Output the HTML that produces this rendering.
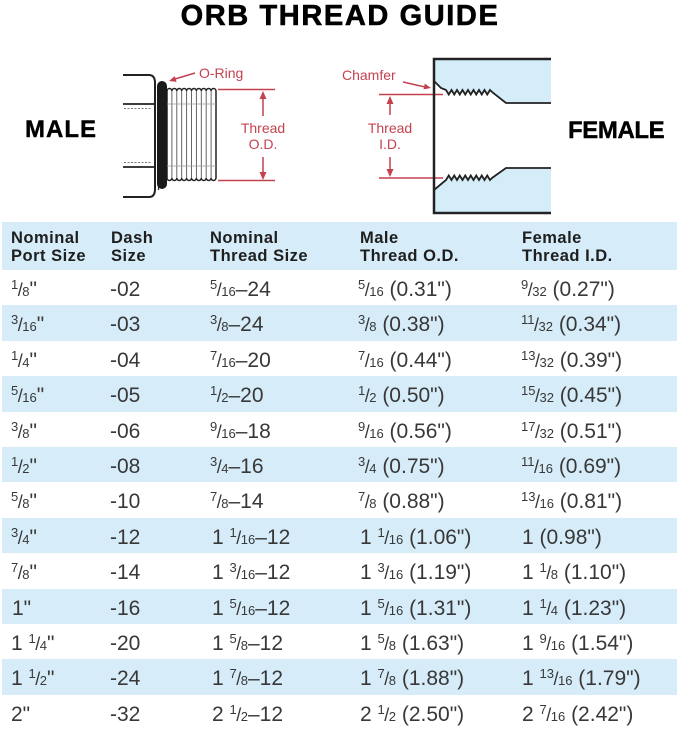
<!DOCTYPE html>
<html><head><meta charset="utf-8">
<style>
html,body{margin:0;padding:0;background:#fff;}
#p{position:relative;width:679px;height:729px;overflow:hidden;background:#fff;font-family:"Liberation Sans",sans-serif;}
svg{position:absolute;left:0;top:0;}
.band{position:absolute;left:2px;width:675px;background:#d6ecf8;}
.r{position:absolute;left:0;width:679px;height:35.4px;}
.c{position:absolute;top:2px;line-height:35.4px;font-size:21px;color:#383838;white-space:nowrap;}
.h{position:absolute;font-size:16.5px;font-weight:bold;color:#1e1e1e;line-height:17.5px;letter-spacing:0.5px;white-space:nowrap;}
.n{font-size:13px;position:relative;top:-7px;}
.s{font-size:18px;margin:0 -0.5px;}
.d{font-size:13px;}
.g{margin-left:3px;}
</style></head><body><div id="p">
<svg width="679" height="222" viewBox="0 0 679 222">
<text x="340" y="25" text-anchor="middle" font-family="Liberation Sans, sans-serif" font-weight="bold" font-size="29" letter-spacing="1.6" fill="#000" stroke="#000" stroke-width="0.6">ORB THREAD GUIDE</text>
<text x="25" y="137" font-family="Liberation Sans, sans-serif" font-weight="bold" font-size="24" letter-spacing="1" fill="#000" stroke="#000" stroke-width="0.4">MALE</text>
<text x="568" y="138" font-family="Liberation Sans, sans-serif" font-weight="bold" font-size="24" letter-spacing="-0.4" fill="#000" stroke="#000" stroke-width="0.4">FEMALE</text>
<!-- male -->
<path d="M123,75 H149 Q155,75 155,83 V189 Q155,197 149,197 H123" fill="none" stroke="#222" stroke-width="2"/>
<path d="M123,104 H155 M123,167 H155" stroke="#222" stroke-width="1.8"/>
<path d="M124,108.5 H152 M124,162.5 H152" stroke="#777" stroke-width="1" stroke-dasharray="2,1.5"/>
<path d="M158.5,85 V190" stroke="#333" stroke-width="1.2"/>
<path d="M167,91 a2.45,2.45 0 0 1 4.9,0 a2.45,2.45 0 0 1 4.9,0 a2.45,2.45 0 0 1 4.9,0 a2.45,2.45 0 0 1 4.9,0 a2.45,2.45 0 0 1 4.9,0 a2.45,2.45 0 0 1 4.9,0 a2.45,2.45 0 0 1 4.9,0 a2.45,2.45 0 0 1 4.9,0 a2.45,2.45 0 0 1 4.9,0 a2.45,2.45 0 0 1 4.9,0 V178 a2.45,2.45 0 0 1 -4.9,0 a2.45,2.45 0 0 1 -4.9,0 a2.45,2.45 0 0 1 -4.9,0 a2.45,2.45 0 0 1 -4.9,0 a2.45,2.45 0 0 1 -4.9,0 a2.45,2.45 0 0 1 -4.9,0 a2.45,2.45 0 0 1 -4.9,0 a2.45,2.45 0 0 1 -4.9,0 a2.45,2.45 0 0 1 -4.9,0 a2.45,2.45 0 0 1 -4.9,0 Z" fill="#fff" stroke="#222" stroke-width="1.5"/>
<path d="M171.9,91 V178 M176.8,91 V178 M181.7,91 V178 M186.6,91 V178 M191.5,91 V178 M196.4,91 V178 M201.3,91 V178 M206.2,91 V178 M211.1,91 V178" stroke="#555" stroke-width="0.9"/>
<path d="M167,104 H216 M167,166 H216" stroke="#999" stroke-width="0.8"/>
<rect x="157" y="81" width="10" height="108" rx="5" fill="#1a1a1a"/>
<g stroke="#c4424f" stroke-width="1.5" fill="none">
<path d="M218,89.5 H275 M218,180.5 H275 M263,97 V116 M263,157 V174 M195,73 L175,79"/>
<path d="M379,94.5 H443 M379,178 H443 M390,102 V115 M390,157 V171 M403,82 L425,87"/>
</g>
<g fill="#c4424f">
<polygon points="263,91 259.5,99 266.5,99"/>
<polygon points="263,180 259.5,172 266.5,172"/>
<polygon points="169,81 176.6,81.9 174.8,76.1"/>
<polygon points="390,96 386.5,104 393.5,104"/>
<polygon points="390,177 386.5,169 393.5,169"/>
<polygon points="431,88 423.5,89.4 424.8,83.6"/>
</g>
<g font-family="Liberation Sans, sans-serif" font-size="14" fill="#c4424f">
<text x="199" y="78">O-Ring</text>
<text x="263" y="133" text-anchor="middle">Thread</text>
<text x="263" y="149" text-anchor="middle">O.D.</text>
<text x="342" y="80">Chamfer</text>
<text x="390" y="133" text-anchor="middle">Thread</text>
<text x="390" y="149" text-anchor="middle">I.D.</text>
</g>
<!-- female -->
<path d="M434,59 H551 V103 H506 L492,92 L490,90 L487.25,94.5 L484.5,90 L481.75,94.5 L479,90 L476.25,94.5 L473.5,90 L470.75,94.5 L468,90 L465.25,94.5 L462.5,90 L459.75,94.5 L457,90 L454.25,94.5 L451.5,90 L448.75,94.5 L446,90 L441,88 L434,81 Z" fill="#d4edf8"/>
<path d="M434,190 L446,180 L448.75,175.5 L451.5,180 L454.25,175.5 L457,180 L459.75,175.5 L462.5,180 L465.25,175.5 L468,180 L470.75,175.5 L473.5,180 L476.25,175.5 L479,180 L481.75,175.5 L484.5,180 L487.25,175.5 L490,180 L492,178 L506,168 H551 V213 H434 Z" fill="#d4edf8"/>
<path d="M434,81 L441,88 L446,90 L448.75,94.5 L451.5,90 L454.25,94.5 L457,90 L459.75,94.5 L462.5,90 L465.25,94.5 L468,90 L470.75,94.5 L473.5,90 L476.25,94.5 L479,90 L481.75,94.5 L484.5,90 L487.25,94.5 L490,90 L492,92 L506,103 H551" fill="none" stroke="#222" stroke-width="1.8"/>
<path d="M434,190 L446,180 L448.75,175.5 L451.5,180 L454.25,175.5 L457,180 L459.75,175.5 L462.5,180 L465.25,175.5 L468,180 L470.75,175.5 L473.5,180 L476.25,175.5 L479,180 L481.75,175.5 L484.5,180 L487.25,175.5 L490,180 L492,178 L506,168 H551" fill="none" stroke="#222" stroke-width="1.8"/>
<path d="M551,59 H434 V213 H551" fill="none" stroke="#222" stroke-width="2.5"/>
</svg>

<div class="band" style="top:222px;height:48px;"></div>
<div class="h" style="left:11px;top:230px;">Nominal<br>Port Size</div>
<div class="h" style="left:111px;top:230px;">Dash<br>Size</div>
<div class="h" style="left:210px;top:230px;">Nominal<br>Thread Size</div>
<div class="h" style="left:360px;top:230px;">Male<br>Thread O.D.</div>
<div class="h" style="left:522px;top:230px;">Female<br>Thread I.D.</div>

<div class="r" style="top:270px;">
<span class="c" style="left:11px"><span class="n">1</span><span class="s">/</span><span class="d">8</span>"</span>
<span class="c" style="left:110px">-02</span>
<span class="c" style="left:210px"><span class="n">5</span><span class="s">/</span><span class="d">16</span>–24</span>
<span class="c" style="left:358px"><span class="n">5</span><span class="s">/</span><span class="d">16</span> (0.31")</span>
<span class="c" style="left:521px"><span class="n">9</span><span class="s">/</span><span class="d">32</span> (0.27")</span>
</div>
<div class="r" style="top:305.4px;background:#d6ecf8;left:2px;width:675px;">
<span class="c" style="left:9px"><span class="n">3</span><span class="s">/</span><span class="d">16</span>"</span>
<span class="c" style="left:108px">-03</span>
<span class="c" style="left:208px"><span class="n">3</span><span class="s">/</span><span class="d">8</span>–24</span>
<span class="c" style="left:356px"><span class="n">3</span><span class="s">/</span><span class="d">8</span> (0.38")</span>
<span class="c" style="left:519px"><span class="n">11</span><span class="s">/</span><span class="d">32</span> (0.34")</span>
</div>
<div class="r" style="top:340.8px;">
<span class="c" style="left:11px"><span class="n">1</span><span class="s">/</span><span class="d">4</span>"</span>
<span class="c" style="left:110px">-04</span>
<span class="c" style="left:210px"><span class="n">7</span><span class="s">/</span><span class="d">16</span>–20</span>
<span class="c" style="left:358px"><span class="n">7</span><span class="s">/</span><span class="d">16</span> (0.44")</span>
<span class="c" style="left:521px"><span class="n">13</span><span class="s">/</span><span class="d">32</span> (0.39")</span>
</div>
<div class="r" style="top:376.2px;background:#d6ecf8;left:2px;width:675px;">
<span class="c" style="left:9px"><span class="n">5</span><span class="s">/</span><span class="d">16</span>"</span>
<span class="c" style="left:108px">-05</span>
<span class="c" style="left:208px"><span class="n">1</span><span class="s">/</span><span class="d">2</span>–20</span>
<span class="c" style="left:356px"><span class="n">1</span><span class="s">/</span><span class="d">2</span> (0.50")</span>
<span class="c" style="left:519px"><span class="n">15</span><span class="s">/</span><span class="d">32</span> (0.45")</span>
</div>
<div class="r" style="top:411.6px;">
<span class="c" style="left:11px"><span class="n">3</span><span class="s">/</span><span class="d">8</span>"</span>
<span class="c" style="left:110px">-06</span>
<span class="c" style="left:210px"><span class="n">9</span><span class="s">/</span><span class="d">16</span>–18</span>
<span class="c" style="left:358px"><span class="n">9</span><span class="s">/</span><span class="d">16</span> (0.56")</span>
<span class="c" style="left:521px"><span class="n">17</span><span class="s">/</span><span class="d">32</span> (0.51")</span>
</div>
<div class="r" style="top:447px;background:#d6ecf8;left:2px;width:675px;">
<span class="c" style="left:9px"><span class="n">1</span><span class="s">/</span><span class="d">2</span>"</span>
<span class="c" style="left:108px">-08</span>
<span class="c" style="left:208px"><span class="n">3</span><span class="s">/</span><span class="d">4</span>–16</span>
<span class="c" style="left:356px"><span class="n">3</span><span class="s">/</span><span class="d">4</span> (0.75")</span>
<span class="c" style="left:519px"><span class="n">11</span><span class="s">/</span><span class="d">16</span> (0.69")</span>
</div>
<div class="r" style="top:482.4px;">
<span class="c" style="left:11px"><span class="n">5</span><span class="s">/</span><span class="d">8</span>"</span>
<span class="c" style="left:110px">-10</span>
<span class="c" style="left:210px"><span class="n">7</span><span class="s">/</span><span class="d">8</span>–14</span>
<span class="c" style="left:358px"><span class="n">7</span><span class="s">/</span><span class="d">8</span> (0.88")</span>
<span class="c" style="left:521px"><span class="n">13</span><span class="s">/</span><span class="d">16</span> (0.81")</span>
</div>
<div class="r" style="top:517.8px;background:#d6ecf8;left:2px;width:675px;">
<span class="c" style="left:9px"><span class="n">3</span><span class="s">/</span><span class="d">4</span>"</span>
<span class="c" style="left:108px">-12</span>
<span class="c" style="left:210px">1 <span class="n">1</span><span class="s">/</span><span class="d">16</span>–12</span>
<span class="c" style="left:358px">1 <span class="n">1</span><span class="s">/</span><span class="d">16</span> (1.06")</span>
<span class="c" style="left:520px">1 (0.98")</span>
</div>
<div class="r" style="top:553.2px;">
<span class="c" style="left:11px"><span class="n">7</span><span class="s">/</span><span class="d">8</span>"</span>
<span class="c" style="left:110px">-14</span>
<span class="c" style="left:212px">1 <span class="n">3</span><span class="s">/</span><span class="d">16</span>–12</span>
<span class="c" style="left:360px">1 <span class="n">3</span><span class="s">/</span><span class="d">16</span> (1.19")</span>
<span class="c" style="left:522px">1 <span class="n">1</span><span class="s">/</span><span class="d">8</span> (1.10")</span>
</div>
<div class="r" style="top:588.6px;background:#d6ecf8;left:2px;width:675px;">
<span class="c" style="left:10px">1"</span>
<span class="c" style="left:108px">-16</span>
<span class="c" style="left:210px">1 <span class="n">5</span><span class="s">/</span><span class="d">16</span>–12</span>
<span class="c" style="left:358px">1 <span class="n">5</span><span class="s">/</span><span class="d">16</span> (1.31")</span>
<span class="c" style="left:520px">1 <span class="n">1</span><span class="s">/</span><span class="d">4</span> (1.23")</span>
</div>
<div class="r" style="top:624px;">
<span class="c" style="left:11px">1 <span class="n">1</span><span class="s">/</span><span class="d">4</span>"</span>
<span class="c" style="left:110px">-20</span>
<span class="c" style="left:212px">1 <span class="n">5</span><span class="s">/</span><span class="d">8</span>–12</span>
<span class="c" style="left:360px">1 <span class="n">5</span><span class="s">/</span><span class="d">8</span> (1.63")</span>
<span class="c" style="left:522px">1 <span class="n">9</span><span class="s">/</span><span class="d">16</span> (1.54")</span>
</div>
<div class="r" style="top:659.4px;background:#d6ecf8;left:2px;width:675px;">
<span class="c" style="left:9px">1 <span class="n">1</span><span class="s">/</span><span class="d">2</span>"</span>
<span class="c" style="left:108px">-24</span>
<span class="c" style="left:210px">1 <span class="n">7</span><span class="s">/</span><span class="d">8</span>–12</span>
<span class="c" style="left:358px">1 <span class="n">7</span><span class="s">/</span><span class="d">8</span> (1.88")</span>
<span class="c" style="left:520px">1 <span class="n">13</span><span class="s">/</span><span class="d">16</span> (1.79")</span>
</div>
<div class="r" style="top:694.8px;">
<span class="c" style="left:11px">2"</span>
<span class="c" style="left:110px">-32</span>
<span class="c" style="left:212px">2 <span class="n">1</span><span class="s">/</span><span class="d">2</span>–12</span>
<span class="c" style="left:360px">2 <span class="n">1</span><span class="s">/</span><span class="d">2</span> (2.50")</span>
<span class="c" style="left:522px">2 <span class="n">7</span><span class="s">/</span><span class="d">16</span> (2.42")</span>
</div>
</div></body></html>
